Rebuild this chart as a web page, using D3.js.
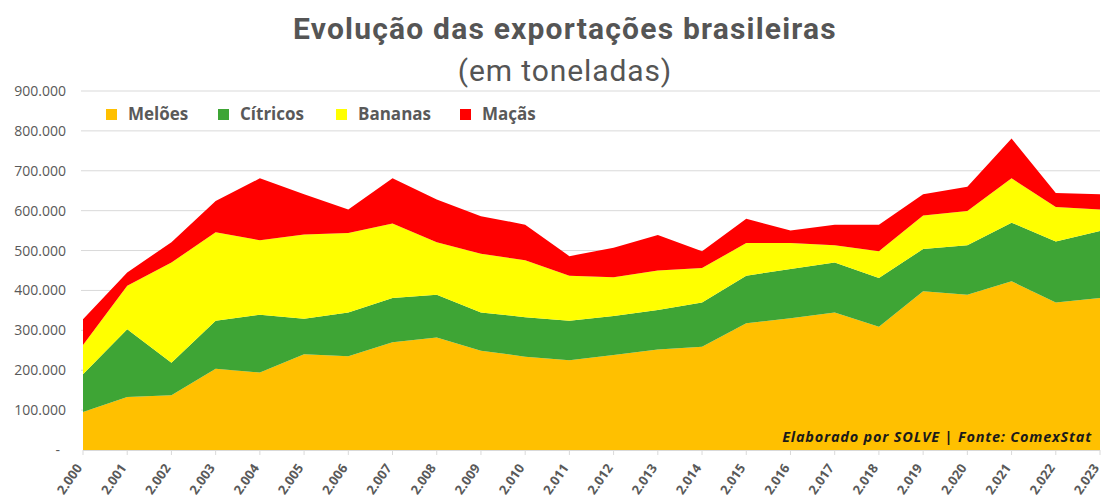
<!DOCTYPE html>
<html>
<head>
<meta charset="utf-8">
<script src="https://cdn.jsdelivr.net/npm/d3@7"></script>
<style>
  html, body { margin: 0; padding: 0; background: #fff; }
  svg { display: block; }
</style>
</head>
<body>
<div id="chart"></div>
<script>
// anos e séries (mil toneladas)
var years = [2000,2001,2002,2003,2004,2005,2006,2007,2008,2009,2010,2011,
             2012,2013,2014,2015,2016,2017,2018,2019,2020,2021,2022,2023];
var meloes   = [95,133,137,204,194,240,235,270,282,249,234,225,238,252,259,318,330,345,309,398,389,423,370,381];
var citricos = [95,170,82,120,145,89,110,111,107,96,99,99,98,99,111,119,124,125,122,106,124,147,153,168];
var bananas  = [73,109,251,222,187,211,199,187,132,147,143,113,97,99,86,82,65,43,67,84,86,111,86,54];
var macas    = [65,33,51,78,155,101,59,113,107,94,89,49,74,89,42,61,31,52,67,53,61,100,35,38];
var seriesNames = ["Melões","Cítricos","Bananas","Maçãs"];
var seriesColors = ["#FFC000","#3EA535","#FFFF00","#FF0000"];
var yTicks = [0,100000,200000,300000,400000,500000,600000,700000,800000,900000];

var W = 1102, H = 500;
var m = { l: 83, r: 2, t: 91, b: 50 };
var TXT = "#595959";
var FONT = "'Open Sans', sans-serif";

var rows = years.map(function (y, i) {
  return { year: y, "Melões": meloes[i]*1000, "Cítricos": citricos[i]*1000,
           "Bananas": bananas[i]*1000, "Maçãs": macas[i]*1000 };
});

var svg = d3.select("#chart").append("svg").attr("width", W).attr("height", H);

var x = d3.scaleLinear().domain([2000, 2023]).range([m.l, W - m.r]);
var y = d3.scaleLinear().domain([0, 900000]).range([H - m.b, m.t]);

function fmt(v) { return v === 0 ? "-" : d3.format(",")(v).replace(/,/g, "."); }

// gridlines
svg.append("g").selectAll("line").data(yTicks.slice(1)).enter().append("line")
  .attr("x1", m.l - 2).attr("x2", W - m.r)
  .attr("y1", function (d) { return y(d); }).attr("y2", function (d) { return y(d); })
  .attr("stroke", "#d9d9d9").attr("stroke-width", 1);

// y labels
svg.append("g").selectAll("text").data(yTicks).enter().append("text")
  .attr("x", function (d) { return d === 0 ? 60 : 66; })
  .attr("y", function (d) { return y(d) + 5; })
  .attr("text-anchor", "end").attr("fill", TXT)
  .attr("font-family", FONT).attr("font-size", 14)
  .text(fmt);

// stacked areas
var stack = d3.stack().keys(seriesNames)(rows);
var area = d3.area()
  .x(function (d) { return x(d.data.year); })
  .y0(function (d) { return y(d[0]); })
  .y1(function (d) { return y(d[1]); });
svg.append("g").selectAll("path").data(stack).enter().append("path")
  .attr("d", area)
  .attr("fill", function (d, i) { return seriesColors[i]; });

// x axis line + ticks
svg.append("line").attr("x1", m.l).attr("x2", W - m.r)
  .attr("y1", y(0) + 0.5).attr("y2", y(0) + 0.5).attr("stroke", "#d9d9d9");
svg.append("g").selectAll("line").data(years).enter().append("line")
  .attr("x1", function (d) { return x(d); }).attr("x2", function (d) { return x(d); })
  .attr("y1", y(0)).attr("y2", y(0) + 5).attr("stroke", "#d9d9d9");

// x labels, rotated
svg.append("g").selectAll("text").data(years).enter().append("text")
  .attr("transform", function (d) { return "translate(" + (x(d) - 3) + "," + (y(0) + 16) + ") rotate(-55)"; })
  .attr("text-anchor", "end").attr("dominant-baseline", "middle")
  .attr("fill", TXT).attr("font-family", FONT)
  .attr("font-size", 13).attr("font-weight", 700)
  .text(function (d) { return fmt(d); });

// title
svg.append("text").attr("x", 565).attr("y", 39).attr("text-anchor", "middle")
  .attr("fill", "#555555").attr("font-family", "Roboto, sans-serif")
  .attr("font-size", 30).attr("font-weight", 700).attr("letter-spacing", 1.2)
  .text("Evolução das exportações brasileiras");
svg.append("text").attr("x", 565).attr("y", 81).attr("text-anchor", "middle")
  .attr("fill", "#555555").attr("font-family", "Roboto, sans-serif")
  .attr("font-size", 30).attr("font-weight", 400).attr("letter-spacing", 0.9)
  .text("(em toneladas)");

// legend
var legX = [106, 218, 336, 460];
var leg = svg.append("g").selectAll("g").data(seriesNames).enter().append("g")
  .attr("transform", function (d, i) { return "translate(" + legX[i] + ",109)"; });
leg.append("rect").attr("width", 11).attr("height", 11)
  .attr("fill", function (d, i) { return seriesColors[i]; });
leg.append("text").attr("x", 22).attr("y", 11)
  .attr("fill", TXT).attr("font-family", FONT)
  .attr("font-size", 17).attr("font-weight", 700)
  .text(function (d) { return d; });

// source note
svg.append("text").attr("x", 1092).attr("y", 442).attr("text-anchor", "end")
  .attr("fill", "#1a1a1a").attr("font-family", FONT)
  .attr("font-size", 14.5).attr("font-weight", 700).attr("font-style", "italic")
  .attr("letter-spacing", 0.8)
  .text("Elaborado por SOLVE | Fonte: ComexStat");
</script>
</body>
</html>
